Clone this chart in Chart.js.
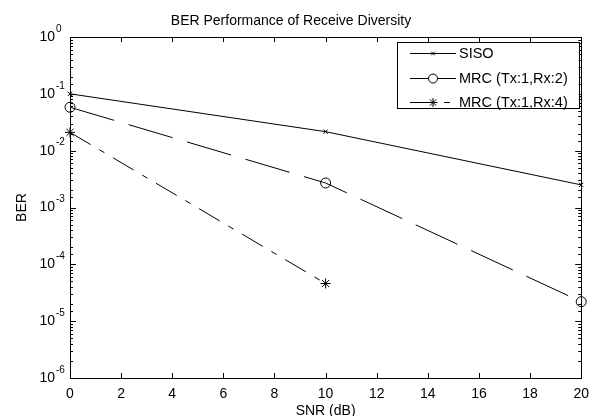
<html>
<head>
<meta charset="UTF-8"/>
<style>
html, body {
 margin: 0px;
 border: 0;
 overflow: hidden;
 background-color: #ffffff;
}
</style>
<script src="https://cdn.jsdelivr.net/npm/chart.js@4.4.1/dist/chart.umd.min.js"></script>
<script type="text/javascript">
// data
var snr = [0, 10, 20];
var berSiso = [0.1, 0.0216, 0.0025];
var berMrc2 = [0.058, 0.0027, 2.2e-5];
var berMrc4 = [0.021, 4.6e-5];          // only 0 and 10 dB show up
var seriesNames = ['SISO', 'MRC (Tx:1,Rx:2)', 'MRC (Tx:1,Rx:4)'];
var xTicks = [0, 2, 4, 6, 8, 10, 12, 14, 16, 18, 20];
var yMin = 1e-6, yMax = 1;

var FONT = "'Liberation Sans', Arial, sans-serif";

function pts(ys) {
    var out = [];
    for (var i = 0; i < ys.length; i++) out.push({x: snr[i], y: ys[i]});
    return out;
}

function isDecade(v) {
    var l = Math.log10(v);
    return Math.abs(l - Math.round(l)) < 1e-9;
}

// inward ticks on all four sides + the box, matlab style
var boxPlugin = {
    id: 'box',
    afterDatasetsDraw: function(chart) {
        var ctx = chart.ctx, a = chart.chartArea;
        var xs = chart.scales.x, ys = chart.scales.y;
        ctx.save();
        ctx.strokeStyle = '#000';
        ctx.lineWidth = 1;
        ctx.setLineDash([]);
        ctx.beginPath();
        xs.ticks.forEach(function(t) {
            var px = Math.round(xs.getPixelForValue(t.value)) + 0.5;
            ctx.moveTo(px, a.bottom); ctx.lineTo(px, a.bottom - 5);
            ctx.moveTo(px, a.top); ctx.lineTo(px, a.top + 5);
        });
        ys.ticks.forEach(function(t) {
            var py = Math.round(ys.getPixelForValue(t.value)) + 0.5;
            var len = isDecade(t.value) ? 6 : 3;
            ctx.moveTo(a.left, py); ctx.lineTo(a.left + len, py);
            ctx.moveTo(a.right, py); ctx.lineTo(a.right - len, py);
        });
        ctx.stroke();
        ctx.strokeRect(Math.round(a.left) + 0.5, Math.round(a.top) + 0.5,
                       Math.round(a.right - a.left), Math.round(a.bottom - a.top));

        // exponents for the 10^n labels
        ctx.fillStyle = '#000';
        ctx.font = '10px ' + FONT;
        ctx.textAlign = 'left';
        ctx.textBaseline = 'middle';
        ys.ticks.forEach(function(t) {
            if (!isDecade(t.value)) return;
            var py = ys.getPixelForValue(t.value);
            ctx.fillText(String(Math.round(Math.log10(t.value))), ys.right - 14, py - 8);
        });
        ctx.restore();
    }
};

// legend box, top right
var legendPlugin = {
    id: 'matlabLegend',
    afterDraw: function(chart) {
        var ctx = chart.ctx;
        var bx = 397, by = 42, bw = 182, bh = 66;
        ctx.save();
        ctx.fillStyle = '#fff';
        ctx.fillRect(bx, by, bw, bh);
        ctx.strokeStyle = '#000';
        ctx.lineWidth = 1;
        ctx.setLineDash([]);
        ctx.strokeRect(bx + 0.5, by + 0.5, bw, bh);
        chart.data.datasets.forEach(function(ds, i) {
            var y = Math.round(53 + i * 24.5) + 0.5;
            ctx.strokeStyle = '#000';
            ctx.lineWidth = 1;
            ctx.setLineDash(ds.borderDash || []);
            ctx.beginPath();
            ctx.moveTo(410, y); ctx.lineTo(456, y);
            ctx.stroke();
            ctx.setLineDash([]);
            ctx.fillStyle = '#fff';
            Chart.helpers.drawPoint(ctx, {pointStyle: ds.pointStyle, radius: ds.pointRadius - 0.5,
                                          borderWidth: 1, rotation: 0}, 433, y);
            ctx.fillStyle = '#000';
            ctx.font = '14.5px ' + FONT;
            ctx.textAlign = 'left';
            ctx.textBaseline = 'middle';
            ctx.fillText(ds.label, 459, y);
        });
        ctx.restore();
    }
};

function init() {
    var ctx = document.getElementById('myChart').getContext('2d');
    new Chart(ctx, {
        type: 'line',
        data: {
            datasets: [{
                label: seriesNames[0],
                data: pts(berSiso),
                borderColor: '#000', borderWidth: 1,
                pointStyle: 'crossRot', pointRadius: 3,
                pointBorderColor: '#000', pointBackgroundColor: '#fff',
                tension: 0, clip: false
            }, {
                label: seriesNames[1],
                data: pts(berMrc2),
                borderColor: '#000', borderWidth: 1,
                borderDash: [46, 15],
                pointStyle: 'circle', pointRadius: 5,
                pointBorderColor: '#000', pointBackgroundColor: 'rgba(255,255,255,0)',
                tension: 0, clip: false
            }, {
                label: seriesNames[2],
                data: pts(berMrc4),
                borderColor: '#000', borderWidth: 1,
                borderDash: [24, 10, 6, 10],
                pointStyle: 'star', pointRadius: 5,
                pointBorderColor: '#000', pointBackgroundColor: '#fff',
                tension: 0, clip: false
            }]
        },
        options: {
            responsive: false,
            animation: false,
            layout: { padding: { left: 0, right: 15, top: 0, bottom: 0 } },
            plugins: {
                legend: { display: false },
                tooltip: { enabled: false },
                title: {
                    display: true,
                    text: 'BER Performance of Receive Diversity',
                    color: '#000',
                    font: { family: FONT, size: 14, weight: 'normal' },
                    padding: { top: 13.2, bottom: 7 }
                }
            },
            scales: {
                x: {
                    type: 'linear',
                    min: 0, max: 20,
                    afterBuildTicks: function(s) { s.ticks = xTicks.map(function(v) { return {value: v}; }); },
                    afterFit: function(s) { s.height = 38; },
                    grid: { display: false, drawTicks: false },
                    border: { display: false },
                    ticks: { color: '#000', font: { family: FONT, size: 14 }, padding: 8, maxRotation: 0, autoSkip: false },
                    title: { display: true, text: 'SNR (dB)', color: '#000',
                             font: { family: FONT, size: 14 }, padding: { top: 0, bottom: -4 } }
                },
                y: {
                    type: 'logarithmic',
                    min: yMin, max: yMax,
                    afterFit: function(s) { s.width = 70; },
                    grid: { display: false, drawTicks: false },
                    border: { display: false },
                    ticks: {
                        color: '#000', font: { family: FONT, size: 14 }, padding: 15, autoSkip: false,
                        callback: function(v) { return isDecade(v) ? '10' : ''; }
                    },
                    title: { display: true, text: 'BER', color: '#000',
                             font: { family: FONT, size: 14 }, padding: { top: 14, bottom: 0 } }
                }
            }
        },
        plugins: [boxPlugin, legendPlugin]
    });
}
</script>
<title>BER Performance of Receive Diversity</title>
</head>

<body onload="JavaScript:init();">
<canvas id="myChart" width="597" height="416"></canvas>
</body>
</html>
